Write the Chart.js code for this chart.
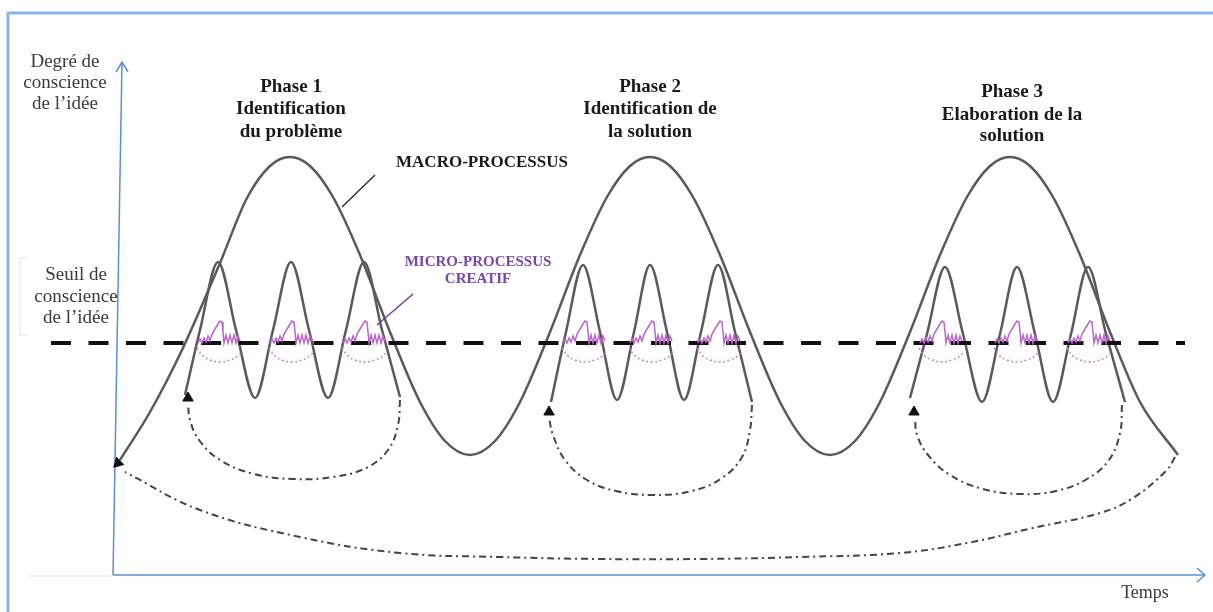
<!DOCTYPE html>
<html>
<head>
<meta charset="utf-8">
<script src="https://cdn.jsdelivr.net/npm/chart.js@4.4.1/dist/chart.umd.min.js"></script>
<style>
  html, body { margin: 0; padding: 0; background: #fff; overflow: hidden; }
  canvas { display: block; }
</style>
</head>
<body>
<canvas id="myChart" width="1213" height="612"></canvas>
<script>
// setup - the diagram lives in a 1213 x 612 value space (y grows downwards)

// macro-processus : three big arches
const macroX = [120,150,182,220,247,270,290, 310,333,360,390,420,445,470, 495,520,550,580,607,630,650, 670,693,720,750,780,805,830, 855,880,910,940,967,990,1010, 1030,1053,1080,1110,1140,1178];
const macroY = [460,412,350,263,198,166,157, 166,197,255,332,402,441,455, 441,402,332,255,197,166,157, 166,197,255,332,402,441,455, 441,402,332,255,197,166,157, 166,197,255,332,402,455];

// micro-processus : three small waves in each phase
const micro1X = [185,200,218,236,255,273,291,309,328,346,364,382,400];
const micro1Y = [395,330,262,330,398,330,262,330,398,330,262,330,397];
const micro2X = [551,566,583,600,617,634,650,667,684,701,718,735,752];
const micro2Y = [402,332,265,332,400,332,265,332,400,332,265,332,402];
const micro3X = [910,927,945,963,982,1000,1017,1035,1053,1071,1088,1106,1125];
const micro3Y = [398,334,267,334,402,334,267,334,402,334,267,334,402];

// dash-dot return loops
const loop1X = [400,398,388,366,333,293,254,220,199,190,188];
const loop1Y = [400,425,450,468,477,479,474,460,440,420,404];
const loop2X = [752,750,742,722,692,653,616,587,565,553,549];
const loop2Y = [405,430,457,478,491,495,491,480,460,435,418];
const loop3X = [1122,1120,1109,1087,1056,1020,983,950,928,917,915];
const loop3Y = [405,433,460,479,491,494,489,475,455,435,418];
const bigLoopX = [1175,1167,1133,1100,1033,967,900,800,700,600,500,400,300,200,125];
const bigLoopY = [457,470,498,513,528,543,553,557,559,559,557,553,537,510,472];

// arrow heads
const arrowX = [118,188,549,914];
const arrowY = [463,398,412,412];
const arrowRot = [225,0,0,0];

// threshold (seuil de conscience)
const seuilX = [51,1185];
const seuilY = [343,343];

// creative micro-processus squiggles (shape + where they sit)
const squigDX = [0,2,4,6,8,10,12,14,17,20,22,24,25,26,28,30,32,34,36,38,40,42];
const squigY  = [343,339,343,338,342,336,341,334,329,324,321,322,332,343,335,343,335,343,335,343,336,341];
const arcDX = [-1,5,12,22,32,40,44];
const arcY  = [348,356,360,362,360,356,351];
const squigStart = [198,270,343,563,630,698,920,995,1068];

// texts
const yTitle = ["Degré de", "conscience", "de l\u2019idée"];
const seuilTitle = ["Seuil de", "conscience", "de l\u2019idée"];
const phaseTitles = [
  ["Phase 1", "Identification", "du problème"],
  ["Phase 2", "Identification de", "la solution"],
  ["Phase 3", "Elaboration de la", "solution"]
];
const macroLabel = "MACRO-PROCESSUS";
const microLabel = ["MICRO-PROCESSUS", "CREATIF"];
const xTitle = "Temps";

const pts = (xs, ys) => xs.map((x, i) => ({ x: x, y: ys[i] }));

function line(xs, ys, opts) {
  return Object.assign({
    data: pts(xs, ys),
    showLine: true,
    pointRadius: 0,
    borderColor: "#555",
    borderWidth: 2,
    tension: 0,
    fill: false,
    order: 5
  }, opts);
}

const grey = "#5a5a5a";
const dashDot = [7, 4, 2, 4];

const datasets = [
  // frame + axes
  line([8, 8, 1213], [612, 13, 13], { borderColor: "#8db4e2", borderWidth: 3, order: 9 }),
  line([27, 20, 20, 27], [258, 258, 335, 335], { borderColor: "#ececec", borderWidth: 1.5, order: 9 }),
  line([27, 113], [576, 576], { borderColor: "#eeeeee", borderWidth: 1.5, order: 9 }),
  line([113, 122], [575, 62], { borderColor: "#5b8fd6", borderWidth: 1.5, order: 8 }),
  line([116, 122, 128], [72, 62, 72], { borderColor: "#5b8fd6", borderWidth: 1.5, order: 8 }),
  line([113, 1205], [575, 575], { borderColor: "#5b8fd6", borderWidth: 1.5, order: 8 }),
  line([1197, 1205, 1197], [568, 575, 582], { borderColor: "#5b8fd6", borderWidth: 1.5, order: 8 }),

  // curves
  line(macroX, macroY, { borderColor: grey, borderWidth: 2.5, cubicInterpolationMode: "monotone" }),
  line(micro1X, micro1Y, { borderColor: grey, borderWidth: 2.5, cubicInterpolationMode: "monotone" }),
  line(micro2X, micro2Y, { borderColor: grey, borderWidth: 2.5, cubicInterpolationMode: "monotone" }),
  line(micro3X, micro3Y, { borderColor: grey, borderWidth: 2.5, cubicInterpolationMode: "monotone" }),

  // return loops
  line(loop1X, loop1Y, { borderColor: "#444", borderWidth: 2, borderDash: dashDot, tension: 0.4 }),
  line(loop2X, loop2Y, { borderColor: "#444", borderWidth: 2, borderDash: dashDot, tension: 0.4 }),
  line(loop3X, loop3Y, { borderColor: "#444", borderWidth: 2, borderDash: dashDot, tension: 0.4 }),
  line(bigLoopX, bigLoopY, { borderColor: "#444", borderWidth: 2, borderDash: dashDot, tension: 0.4 }),

  // threshold
  line(seuilX, seuilY, { borderColor: "#111", borderWidth: 4, borderDash: [20, 17.5], order: 2 }),

  // pointers
  line([375, 342], [175, 207], { borderColor: "#333", borderWidth: 1.5, order: 3 }),
  line([413, 377], [294, 325], { borderColor: "#6a3fa0", borderWidth: 1.5, order: 3 }),

  // arrow heads
  {
    data: pts(arrowX, arrowY),
    pointStyle: "triangle",
    pointRadius: 6,
    pointRotation: arrowRot,
    backgroundColor: "#111",
    borderColor: "#111",
    borderWidth: 1,
    showLine: false,
    order: 1
  }
];

squigStart.forEach((x0) => {
  datasets.push(line(squigDX.map((d) => x0 + d), squigY,
    { borderColor: "#bb66cc", borderWidth: 1.5, order: 0 }));
  datasets.push(line(arcDX.map((d) => x0 + d), arcY,
    { borderColor: "#cc80d8", borderWidth: 1.5, borderDash: [2, 2.5], tension: 0.4, order: 0 }));
});

// text plugin
const textPlugin = {
  id: "diagramText",
  afterDatasetsDraw(chart) {
    const { ctx, scales: { x, y } } = chart;
    const put = (lines, cx, ys, font, color) => {
      ctx.save();
      ctx.font = font;
      ctx.fillStyle = color;
      ctx.textAlign = "center";
      ctx.textBaseline = "middle";
      lines.forEach((t, i) => ctx.fillText(t, x.getPixelForValue(cx), y.getPixelForValue(ys[i])));
      ctx.restore();
    };
    const serif = '"Liberation Serif", "DejaVu Serif", serif';
    put(yTitle, 65, [62, 83, 104], "19px " + serif, "#3a3a3a");
    put(seuilTitle, 76, [275, 297, 318], "19px " + serif, "#3a3a3a");
    put([xTitle], 1145, [593], "18px " + serif, "#3a3a3a");
    put(phaseTitles[0], 291, [87, 109, 132], "bold 19px " + serif, "#1a1a1a");
    put(phaseTitles[1], 650, [87, 109, 132], "bold 19px " + serif, "#1a1a1a");
    put(phaseTitles[2], 1012, [92, 115, 136], "bold 19px " + serif, "#1a1a1a");
    put([macroLabel], 482, [163], "bold 17px " + serif, "#1a1a1a");
    put(microLabel, 478, [262, 279], "bold 15px " + serif, "#7a45b0");
  }
};

const config = {
  type: "scatter",
  data: { datasets },
  options: {
    responsive: false,
    animation: false,
    layout: { padding: 0, autoPadding: false },
    plugins: {
      legend: { display: false },
      tooltip: { enabled: false }
    },
    scales: {
      x: { type: "linear", min: 0, max: 1213, display: false },
      y: { type: "linear", min: 0, max: 612, reverse: true, display: false }
    }
  },
  plugins: [textPlugin]
};

// render init block
const myChart = new Chart(document.getElementById("myChart"), config);
</script>
</body>
</html>
